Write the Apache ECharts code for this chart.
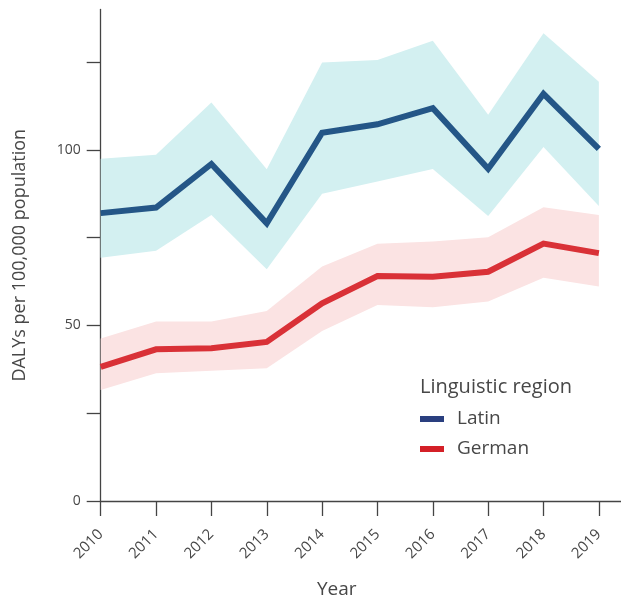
<!DOCTYPE html>
<html>
<head>
<meta charset="utf-8">
<script src="https://cdn.jsdelivr.net/npm/echarts@6/dist/echarts.min.js"></script>
<style>html,body{margin:0;padding:0;background:#fff}#c{width:621px;height:604px}</style>
</head>
<body>
<div id="c"></div>
<script>
const years = [2010, 2011, 2012, 2013, 2014, 2015, 2016, 2017, 2018, 2019];
const latin = [82.0, 83.6, 96.0, 79.1, 104.9, 107.3, 111.9, 94.6, 116.0, 100.3];
const latinUpper = [97.5, 98.6, 113.5, 94.5, 124.9, 125.6, 131.1, 110.0, 133.2, 119.4];
const latinLower = [69.3, 71.3, 81.5, 66.0, 87.5, 91.0, 94.6, 81.2, 100.8, 84.0];
const german = [38.2, 43.2, 43.5, 45.3, 56.3, 64.1, 63.9, 65.3, 73.3, 70.6];
const germanUpper = [46.3, 51.1, 51.1, 54.1, 66.8, 73.3, 73.9, 75.1, 83.7, 81.5];
const germanLower = [31.6, 36.4, 37.1, 37.8, 48.4, 55.8, 55.2, 56.8, 63.6, 61.1];
const yTicks = [0, 25, 50, 75, 100, 125];
const yLabels = [0, 50, 100];

const pairs = (arr) => years.map((y, i) => [y, arr[i]]);
const bandData = (lo, up) => years.map((y, i) => [y, lo[i], up[i]]);

function bandRenderer(color) {
  return function (params, api) {
    if (params.dataIndex !== 0) return null;
    const top = [], bottom = [];
    for (let i = 0; i < years.length; i++) {
      top.push(api.coord([api.value(0, i), api.value(2, i)]));
      bottom.push(api.coord([api.value(0, i), api.value(1, i)]));
    }
    return {
      type: 'polygon',
      shape: { points: top.concat(bottom.reverse()) },
      style: { fill: color, stroke: null },
      silent: true
    };
  };
}

const font = "'Open Sans', 'Noto Sans', sans-serif";
const txt = '#474747';
const axisCol = '#444';

const chart = echarts.init(document.getElementById('c'));
chart.setOption({
  animation: false,
  backgroundColor: '#fff',
  grid: { left: 100.7, right: 0, top: 9.5, bottom: 103, containLabel: false },
  title: {
    text: 'Linguistic region', left: 415, top: 372,
    textStyle: { fontFamily: font, fontSize: 20, fontWeight: 'normal', color: txt }
  },
  graphic: [{
    type: 'text', left: 317, top: 580,
    style: { text: 'Year', font: "19px " + font, fill: txt }
  }],
  legend: {
    orient: 'vertical', left: 420, top: 409, padding: 0,
    itemWidth: 24, itemHeight: 6, itemGap: 10, icon: 'rect',
    textStyle: { fontFamily: font, fontSize: 19, color: txt, lineHeight: 20, padding: [0, 0, 0, 8] },
    data: [
      { name: 'Latin', itemStyle: { color: '#2a3f7f' } },
      { name: 'German', itemStyle: { color: '#d42027' } }
    ]
  },
  xAxis: {
    type: 'value', min: 2010, max: 2019.4, interval: 1,
    splitLine: { show: false },
    axisLine: { show: true, lineStyle: { color: axisCol, width: 1.3 } },
    axisTick: { show: true, customValues: years, length: 15, lineStyle: { color: axisCol, width: 1.3 } },
    axisLabel: {
      customValues: years, rotate: 45, margin: 31,
      fontFamily: font, fontSize: 15, color: txt,
      formatter: (v) => String(v)
    }
  },
  yAxis: {
    type: 'value', min: 0, max: 140,
    name: 'DALYs per 100,000 population', nameLocation: 'middle', nameGap: 72,
    nameTextStyle: { fontFamily: font, fontSize: 18, color: txt },
    splitLine: { show: false },
    axisLine: { show: true, lineStyle: { color: axisCol, width: 1.3 } },
    axisTick: { show: true, customValues: yTicks, length: 14, lineStyle: { color: axisCol, width: 1.3 } },
    axisLabel: { customValues: yLabels, margin: 20, fontFamily: font, fontSize: 14, color: txt }
  },
  series: [
    { name: 'latinBand', type: 'custom', data: bandData(latinLower, latinUpper),
      renderItem: bandRenderer('#d3f0f1'), encode: { x: 0, y: [1, 2] }, silent: true, z: 1 },
    { name: 'germanBand', type: 'custom', data: bandData(germanLower, germanUpper),
      renderItem: bandRenderer('#fbe3e3'), encode: { x: 0, y: [1, 2] }, silent: true, z: 1 },
    { name: 'Latin', type: 'line', data: pairs(latin), symbol: 'none', z: 3,
      itemStyle: { color: '#245687' },
      lineStyle: { color: '#245687', width: 6, join: 'miter' } },
    { name: 'German', type: 'line', data: pairs(german), symbol: 'none', z: 3,
      itemStyle: { color: '#d93137' },
      lineStyle: { color: '#d93137', width: 6, join: 'miter' } }
  ]
});
</script>
</body>
</html>
